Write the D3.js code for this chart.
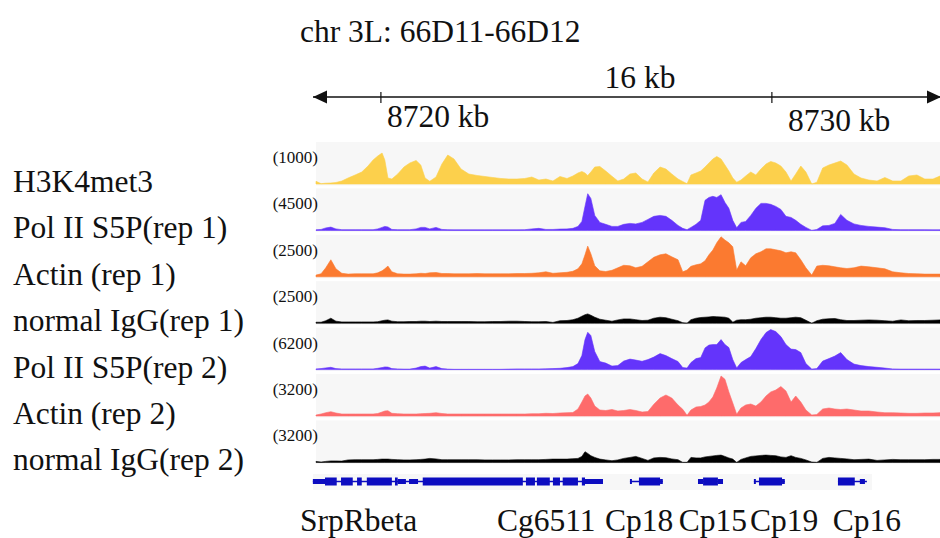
<!DOCTYPE html>
<html lang="en">
  <head>
    <meta charset="UTF-8" />
    <title>chr 3L: 66D11-66D12</title>
    <script src="https://d3js.org/d3.v7.min.js"></script>
    <style>
      body {
        margin: 0;
        background-color: #fff;
      }
      svg {
        display: block;
        font-family: "Liberation Serif", "Times New Roman", serif;
      }
      .big {
        font-size: 31.5px;
        fill: #111;
      }
      .range {
        font-size: 17px;
        fill: #111;
      }
    </style>
  </head>
  <body>
    <div class="chart"></div>

    <script>
      // genomic bin positions (kb) shared by all coverage tracks
      const positions = [
        8718.34, 8718.47, 8718.59, 8718.72, 8718.85, 8719.0, 8719.16, 8719.34, 8719.51, 8719.67,
        8719.8, 8719.92, 8720.03, 8720.1, 8720.18, 8720.28, 8720.43, 8720.59, 8720.74, 8720.9,
        8721.02, 8721.13, 8721.25, 8721.41, 8721.56, 8721.71, 8721.87, 8722.05, 8722.25, 8722.46,
        8722.66, 8722.86, 8723.07, 8723.27, 8723.48, 8723.68, 8723.86, 8724.04, 8724.22, 8724.4,
        8724.58, 8724.76, 8724.91, 8725.04, 8725.14, 8725.22, 8725.29, 8725.37, 8725.47, 8725.6,
        8725.75, 8725.91, 8726.06, 8726.21, 8726.37, 8726.52, 8726.68, 8726.83, 8726.98, 8727.14,
        8727.29, 8727.44, 8727.6, 8727.72, 8727.83, 8727.93, 8728.06, 8728.18, 8728.29, 8728.39,
        8728.49, 8728.59, 8728.7, 8728.8, 8728.9, 8729.0, 8729.1, 8729.21, 8729.33, 8729.46,
        8729.59, 8729.72, 8729.85, 8729.97, 8730.1, 8730.23, 8730.36, 8730.49, 8730.61, 8730.74,
        8730.87, 8731.02, 8731.15, 8731.3, 8731.46, 8731.61, 8731.76, 8731.92, 8732.1, 8732.28,
        8732.48, 8732.69, 8732.89, 8733.09, 8733.3, 8733.5, 8733.71, 8733.91, 8734.12, 8734.3,
      ];

      const h3k4me3 = [
        68, 8, 20, 25, 38, 75, 150, 225, 300, 450,
        600, 700, 775, 600, 150, 125, 250, 425, 525, 588,
        475, 150, 68, 175, 500, 725, 625, 375, 250, 213,
        188, 163, 138, 125, 125, 138, 175, 100, 125, 75,
        188, 138, 200, 275, 313, 275, 213, 300, 425, 438,
        325, 193, 75, 125, 250, 275, 125, 50, 275, 425,
        375, 250, 125, 63, 8, 225, 275, 325, 425, 525,
        625, 688, 625, 475, 325, 150, 43, 100, 200, 300,
        225, 375, 500, 563, 525, 450, 300, 75, 250, 450,
        300, 0, 43, 400, 475, 525, 575, 475, 250, 150,
        100, 75, 163, 75, 75, 200, 225, 125, 125, 200,
      ];

      const polII_rep1 = [
        60, 110, 280, 370, 170, 80, 80, 80, 80, 80,
        80, 170, 340, 450, 390, 110, 80, 80, 80, 170,
        340, 340, 170, 340, 110, 80, 60, 60, 60, 60,
        60, 60, 60, 60, 60, 80, 170, 230, 110, 110,
        150, 170, 230, 450, 1010, 2700, 4130, 3600, 1690, 900,
        680, 450, 450, 680, 790, 730, 900, 1240, 1580, 1690,
        1580, 1130, 560, 230, 80, 340, 680, 1130, 3380, 3710,
        3830, 3710, 4020, 3150, 2480, 1130, 300, 900, 1010, 1690,
        2480, 3040, 3040, 2930, 2700, 2360, 1580, 1460, 1130, 680,
        340, 0, 110, 510, 560, 790, 1800, 1130, 730, 560,
        450, 370, 300, 110, 80, 80, 80, 80, 60, 60,
      ];

      const actin_rep1 = [
        106, 188, 563, 1063, 500, 219, 169, 188, 188, 188,
        188, 250, 375, 500, 669, 313, 188, 169, 169, 188,
        219, 206, 250, 269, 206, 206, 188, 188, 188, 206,
        188, 188, 188, 188, 206, 206, 219, 250, 313, 219,
        250, 281, 344, 500, 813, 1375, 1919, 1438, 688, 375,
        331, 406, 563, 719, 688, 563, 656, 938, 1219, 1375,
        1438, 1250, 1063, 313, 419, 656, 750, 813, 1000, 1375,
        1669, 2125, 2500, 2294, 2125, 1875, 419, 938, 688, 1188,
        1438, 1563, 1750, 1750, 1688, 1625, 1500, 1563, 1500, 1063,
        563, 106, 669, 719, 688, 625, 563, 519, 563, 669,
        625, 563, 500, 313, 250, 206, 188, 169, 169, 169,
      ];

      const igg_rep1 = [
        63, 63, 156, 313, 125, 81, 81, 81, 81, 81,
        81, 94, 156, 188, 206, 125, 94, 94, 106, 106,
        125, 125, 106, 125, 106, 106, 106, 106, 106, 94,
        94, 106, 106, 125, 125, 106, 94, 94, 106, 50,
        156, 169, 219, 313, 438, 531, 581, 500, 375, 250,
        188, 125, 206, 269, 269, 219, 169, 188, 313, 375,
        344, 250, 156, 31, 0, 219, 313, 356, 375, 394,
        419, 406, 394, 375, 313, 63, 188, 219, 219, 250,
        313, 344, 375, 375, 344, 313, 313, 344, 375, 344,
        188, 0, 156, 250, 281, 294, 219, 169, 169, 188,
        206, 188, 156, 125, 206, 156, 169, 169, 188, 206,
      ];

      const polII_rep2 = [
        109, 155, 264, 357, 155, 109, 109, 109, 109, 109,
        109, 202, 310, 419, 388, 155, 109, 78, 78, 233,
        465, 543, 233, 465, 155, 78, 47, 47, 47, 47,
        47, 47, 47, 78, 109, 109, 109, 109, 124, 155,
        202, 310, 465, 930, 2170, 4650, 5782, 5270, 2790, 1240,
        1008, 543, 620, 1318, 1628, 1473, 1287, 1550, 1938, 2480,
        2170, 1705, 1240, 310, 233, 1085, 1705, 1860, 3364, 3798,
        3875, 3875, 4650, 3875, 3410, 1550, 264, 1085, 1550, 2015,
        3255, 4650, 5735, 6200, 5890, 5115, 3875, 3178, 3100, 2635,
        930, 78, 155, 1318, 1705, 2093, 2635, 1550, 853, 620,
        465, 357, 233, 109, 78, 78, 78, 78, 78, 78,
      ];

      const actin_rep2 = [
        80, 160, 264, 344, 240, 160, 160, 160, 160, 160,
        160, 200, 320, 400, 424, 216, 184, 160, 160, 160,
        184, 200, 216, 264, 200, 160, 160, 160, 160, 160,
        160, 160, 160, 160, 160, 160, 184, 184, 216, 200,
        240, 264, 280, 560, 1120, 1600, 1760, 1440, 800, 480,
        440, 520, 400, 440, 520, 440, 320, 360, 936, 1440,
        1680, 1440, 880, 536, 56, 480, 720, 760, 880, 1120,
        1520, 2240, 3200, 2936, 1920, 1040, 136, 640, 880, 960,
        800, 1120, 1600, 1920, 2080, 2360, 2000, 1120, 1600, 1120,
        480, 80, 120, 560, 640, 560, 520, 560, 480, 400,
        400, 320, 264, 264, 240, 216, 216, 240, 240, 264,
      ];

      const igg_rep2 = [
        80, 24, 80, 120, 120, 104, 200, 216, 216, 216,
        216, 240, 264, 264, 264, 240, 216, 200, 200, 216,
        240, 264, 320, 280, 216, 216, 216, 216, 216, 216,
        200, 200, 200, 200, 216, 216, 216, 216, 240, 264,
        264, 264, 296, 320, 480, 856, 720, 536, 400, 264,
        200, 136, 200, 320, 400, 480, 320, 160, 360, 400,
        376, 280, 216, 0, 0, 400, 360, 360, 440, 480,
        520, 560, 584, 480, 360, 264, 0, 240, 360, 480,
        520, 560, 584, 560, 536, 440, 400, 536, 400, 320,
        200, 24, 0, 320, 400, 360, 320, 280, 216, 240,
        264, 160, 200, 240, 216, 216, 216, 216, 240, 240,
      ];

      const trackNames = [
        "H3K4met3",
        "Pol II S5P(rep 1)",
        "Actin (rep 1)",
        "normal IgG(rep 1)",
        "Pol II S5P(rep 2)",
        "Actin (rep 2)",
        "normal IgG(rep 2)",
      ];
      const trackMax = [1000, 4500, 2500, 2500, 6200, 3200, 3200];
      const trackValues = [h3k4me3, polII_rep1, actin_rep1, igg_rep1, polII_rep2, actin_rep2, igg_rep2];

      const tickValues = [8720, 8730];
      const regionTitle = "chr 3L: 66D11-66D12";
      const spanLabel = "16 kb";

      // gene models (kb)
      const geneSpans = [
        [8718.26, 8725.68], [8726.37, 8727.21], [8728.11, 8728.75], [8729.54, 8730.33], [8731.69, 8732.43],
      ];
      const utrBlocks = [
        [8718.26, 8718.57], [8720.43, 8720.64], [8720.72, 8720.95], [8725.22, 8725.68], [8726.37, 8726.42],
        [8727.14, 8727.21], [8728.11, 8728.24], [8728.62, 8728.75], [8729.54, 8729.59], [8730.26, 8730.33],
        [8732.25, 8732.38],
      ];
      const cdsBlocks = [
        [8718.57, 8718.87], [8718.98, 8719.28], [8719.39, 8719.51], [8719.64, 8720.28], [8720.36, 8720.43],
        [8721.07, 8723.63], [8723.71, 8723.94], [8723.99, 8724.32], [8724.4, 8724.58], [8724.65, 8725.04],
        [8725.14, 8725.22], [8726.6, 8727.14], [8728.24, 8728.62], [8729.67, 8730.26], [8731.69, 8732.12],
      ];
      const geneNames = ["SrpRbeta", "Cg6511", "Cp18", "Cp15", "Cp19", "Cp16"];
      const geneLabelAt = [8717.93, 8722.97, 8725.73, 8727.62, 8729.44, 8731.56];

      const colors = ["#fcd04c", "#6434fb", "#fb7a30", "#000000", "#6434fb", "#fe6b6b", "#000000"];
      const geneColor = "#0c0cc0";

      const width = 940,
        height = 538;

      const svg = d3
        .select(".chart")
        .append("svg")
        .attr("width", width)
        .attr("height", height);

      const x = d3
        .scaleLinear()
        .domain(d3.extent(positions))
        .range([316, 940]);

      // title + ruler
      svg
        .append("text")
        .attr("class", "big")
        .attr("x", 300)
        .attr("y", 42)
        .text(regionTitle);

      const rulerY = 97;
      svg
        .append("line")
        .attr("x1", x.range()[0] - 3)
        .attr("x2", 940)
        .attr("y1", rulerY)
        .attr("y2", rulerY)
        .attr("stroke", "#111")
        .attr("stroke-width", 1.5);

      const arrowL = x.range()[0] - 3;
      svg
        .append("path")
        .attr("d", `M${arrowL},${rulerY} l14,-6.5 l0,13 z`)
        .attr("fill", "#111");
      svg
        .append("path")
        .attr("d", `M941,${rulerY} l-14,-6.5 l0,13 z`)
        .attr("fill", "#111");

      svg
        .append("text")
        .attr("class", "big")
        .attr("x", 640)
        .attr("y", 88)
        .attr("text-anchor", "middle")
        .text(spanLabel);

      const tickLabelDx = [6, 16],
        tickLabelY = [127, 131];
      tickValues.forEach((t, i) => {
        svg
          .append("line")
          .attr("x1", x(t))
          .attr("x2", x(t))
          .attr("y1", rulerY - 5)
          .attr("y2", rulerY + 6)
          .attr("stroke", "#111")
          .attr("stroke-width", 1.2);
        svg
          .append("text")
          .attr("class", "big")
          .attr("x", x(t) + tickLabelDx[i])
          .attr("y", tickLabelY[i])
          .text(`${t} kb`);
      });

      // coverage tracks
      const trackBase = (i) => 184 + i * 46.4;
      const trackH = 40;

      trackValues.forEach((vals, i) => {
        const base = trackBase(i);
        const y = d3
          .scaleLinear()
          .domain([0, trackMax[i]])
          .range([base, base - trackH])
          .clamp(true);

        svg
          .append("rect")
          .attr("x", x.range()[0])
          .attr("y", base - 42)
          .attr("width", x.range()[1] - x.range()[0])
          .attr("height", 43.5)
          .attr("fill", "#f7f7f7");

        const area = d3
          .area()
          .x((d, j) => x(positions[j]))
          .y0(base)
          .y1((d) => y(d));

        svg
          .append("path")
          .attr("d", area(vals))
          .attr("fill", colors[i])
          .attr("stroke", colors[i])
          .attr("stroke-width", 0.6);

        svg
          .append("text")
          .attr("class", "range")
          .attr("x", 318)
          .attr("y", base - 21)
          .attr("text-anchor", "end")
          .text(`(${trackMax[i]})`);

        svg
          .append("text")
          .attr("class", "big")
          .attr("x", 13)
          .attr("y", base + 8)
          .text(trackNames[i]);
      });

      // gene track
      const geneY = 481.5;
      svg
        .append("rect")
        .attr("x", x.range()[0] - 3)
        .attr("y", 474)
        .attr("width", 872 - (x.range()[0] - 3))
        .attr("height", 16)
        .attr("fill", "#f7f7f7");

      svg
        .selectAll(".intron")
        .data(geneSpans)
        .enter()
        .append("line")
        .attr("x1", (d) => x(d[0]))
        .attr("x2", (d) => x(d[1]))
        .attr("y1", geneY)
        .attr("y2", geneY)
        .attr("stroke", geneColor)
        .attr("stroke-width", 1.5);

      svg
        .selectAll(".utr")
        .data(utrBlocks)
        .enter()
        .append("rect")
        .attr("x", (d) => x(d[0]))
        .attr("width", (d) => x(d[1]) - x(d[0]))
        .attr("y", geneY - 2.5)
        .attr("height", 5)
        .attr("fill", geneColor);

      svg
        .selectAll(".cds")
        .data(cdsBlocks)
        .enter()
        .append("rect")
        .attr("x", (d) => x(d[0]))
        .attr("width", (d) => x(d[1]) - x(d[0]))
        .attr("y", geneY - 4)
        .attr("height", 8)
        .attr("fill", geneColor);

      svg
        .selectAll(".gene-label")
        .data(geneNames)
        .enter()
        .append("text")
        .attr("class", "big")
        .attr("x", (d, i) => x(geneLabelAt[i]))
        .attr("y", 531)
        .text((d) => d);
    </script>
  </body>
</html>
